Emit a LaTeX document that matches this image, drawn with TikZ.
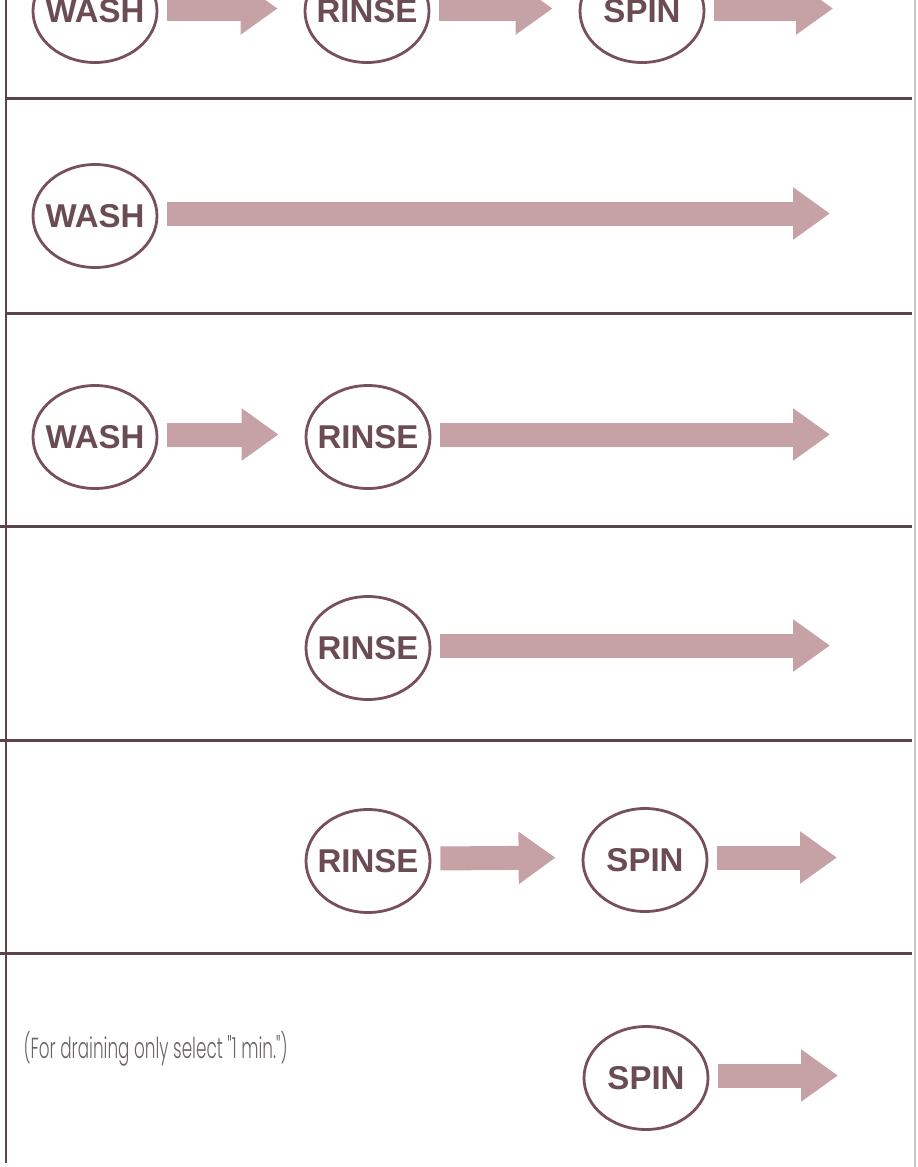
\documentclass[tikz,border=0pt]{standalone}
\usepackage{fontspec}
\usepackage{xcolor}
\usetikzlibrary{positioning,arrows.meta,shapes.geometric}
\setmainfont{Liberation Sans}
\newfontfamily\notefont{Poppins}[UprightFont={* Light},FakeStretch=0.58]
\definecolor{wmrule}{HTML}{5A4549}
\definecolor{wmring}{HTML}{78505A}
\definecolor{wmtext}{HTML}{6A4C52}
\definecolor{wmnote}{HTML}{6E6265}
\definecolor{wmflow}{HTML}{C6A2A7}
\definecolor{wmfaint}{HTML}{C9C4C5}
\tikzset{
  stage/.style  ={ellipse, draw=wmring, line width=2.8pt, fill=white,
                  minimum width=124pt, minimum height=103pt, inner sep=0pt,
                  text=wmtext, font=\bfseries\fontsize{33}{36}\selectfont,
                  execute at begin node={\hbox to 0pt\bgroup\hss},
                  execute at end node={\hss\egroup}},
  flow/.style   ={-{Triangle[length=37pt,width=50pt]}, draw=wmflow,
                  line width=24pt, shorten <=9pt, shorten >=26pt,
                  transform canvas={yshift=2.5pt}},
  flowout/.style={flow, shorten >=0pt},
  rowrule/.style={draw=wmrule, line width=3pt},
  note/.style   ={anchor=base west, text=wmnote,
                  font=\notefont\fontsize{29}{32}\selectfont},
}
\begin{document}
\begin{tikzpicture}[x=1pt,y=-1pt]
  \useasboundingbox (0,0) rectangle (918,1167);

  % frame and row rules
  \draw[rowrule, line width=2.2pt] (6,0) -- (6,1163);
  \draw[draw=wmfaint, line width=1.2pt] (915,0) -- (915,1167);
  \foreach \y in {98,313} { \draw[rowrule] (6,\y) -- (912,\y); }
  \foreach \y in {526,740,953} { \draw[rowrule] (0,\y) -- (912,\y); }

  % wash, rinse, spin
  \node[stage] (wash0)  at (95,11)  {WASH};
  \node[stage] (rinse0) at (367,11) {RINSE};
  \node[stage] (spin0)  at (642,11) {SPIN};
  \coordinate (end0) at (833,11);
  \draw[flow] (wash0.east) -- (rinse0.west);
  \draw[flow] (rinse0.east) -- (spin0.west);
  \draw[flowout] (spin0.east) -- (end0);

  % wash only
  \node[stage] (wash1) at (95,216) {WASH};
  \coordinate (end1) at (830,216);
  \draw[flowout] (wash1.east) -- (end1);

  % wash, rinse
  \node[stage] (wash2)  at (95,437)  {WASH};
  \node[stage] (rinse2) at (368,437) {RINSE};
  \coordinate (end2) at (830,437);
  \draw[flow] (wash2.east) -- (rinse2.west);
  \draw[flowout] (rinse2.east) -- (end2);

  % rinse only
  \node[stage] (rinse3) at (368,648) {RINSE};
  \coordinate (end3) at (830,648);
  \draw[flowout] (rinse3.east) -- (end3);

  % rinse, spin
  \node[stage] (rinse4) at (368,861) {RINSE};
  \node[stage] (spin4)  at (645,860) {SPIN};
  \coordinate (end4) at (837,860);
  \draw[flow] (rinse4.east) -- (spin4.west);
  \draw[flowout] (spin4.east) -- (end4);

  % spin only
  \node[note] (drain) at (20,1058) {(For draining only select "1 min.")};
  \node[stage] (spin5) at (646,1078) {SPIN};
  \coordinate (end5) at (838,1078);
  \draw[flowout] (spin5.east) -- (end5);
\end{tikzpicture}
\end{document}
